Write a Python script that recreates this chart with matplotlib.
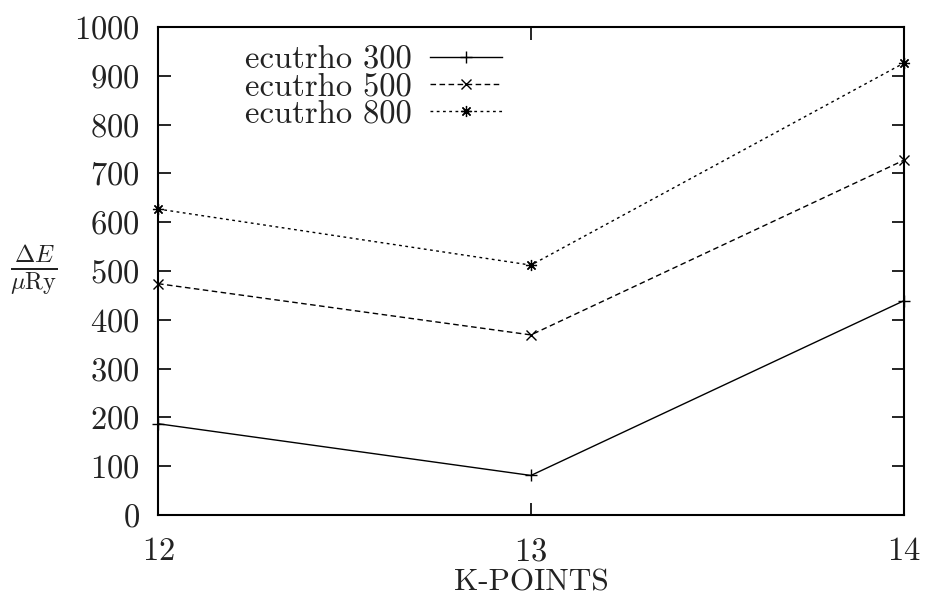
import matplotlib
matplotlib.use('Agg')
import matplotlib.pyplot as plt

plt.rcParams['font.family'] = 'serif'
plt.rcParams['font.serif'] = ['cmr10']
plt.rcParams['mathtext.fontset'] = 'cm'
plt.rcParams['axes.formatter.use_mathtext'] = True

TXT = '#222222'

kpoints = [12, 13, 14]
ecut300 = [187, 81, 439]
ecut500 = [474, 369, 727]
ecut800 = [627, 512, 926]
yticks = [0, 100, 200, 300, 400, 500, 600, 700, 800, 900, 1000]

fig = plt.figure(figsize=(9.27, 6.0), dpi=100)
ax = fig.add_axes([0.1705, 0.1417, 0.8045, 0.8133])

ax.plot(kpoints, ecut300, color='black', lw=1.0, ls='-', marker='+', ms=9, mew=1.0,
        label='ecutrho 300', clip_on=False)
ax.plot(kpoints, ecut500, color='black', lw=1.0, ls=(0, (4, 2.5)), marker='x', ms=7, mew=1.0,
        label='ecutrho 500', clip_on=False)
ax.plot(kpoints, ecut800, color='black', lw=1.0, ls=(0, (2, 2.5)), marker=(8, 2, 0), ms=8, mew=0.9,
        label='ecutrho 800', clip_on=False)

ax.set_xlim(12, 14)
ax.set_ylim(0, 1000)
ax.set_xticks(kpoints)
ax.set_yticks(yticks)
ax.tick_params(direction='in', length=9, width=1.2, top=True, right=True,
               labelsize=23.5, labelcolor=TXT)
ax.tick_params(axis='y', pad=13)
ax.tick_params(axis='x', pad=16)
for s in ax.spines.values():
    s.set_linewidth(1.5)

ax.set_xlabel('K-POINTS', fontsize=22.5, color=TXT, labelpad=2)
fig.text(0.036, 0.55, r'$\frac{\Delta E}{\mu\mathrm{Ry}}$', fontsize=25, color=TXT,
         ha='center', va='center')

leg = ax.legend(loc='upper left', bbox_to_anchor=(0.093, 1.0), frameon=False,
                markerfirst=False, fontsize=23.5, handlelength=2.2, handletextpad=0.55,
                labelspacing=-0.05, borderaxespad=0.15)
for t in leg.get_texts():
    t.set_color(TXT)

fig.savefig('out.png', dpi=100)
